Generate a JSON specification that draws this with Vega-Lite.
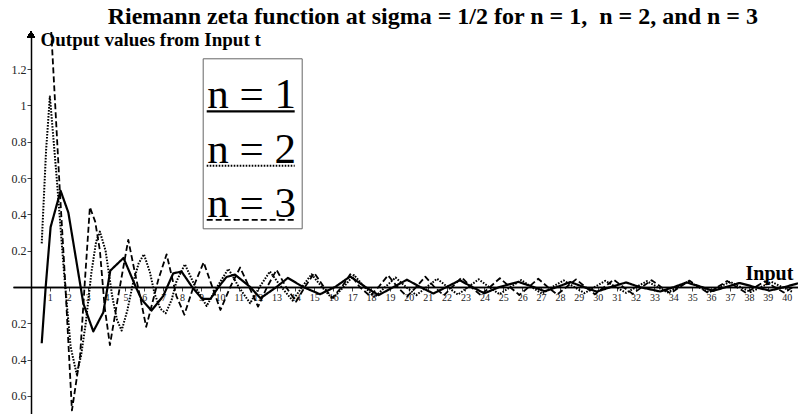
{
  "$schema": "https://vega.github.io/schema/vega-lite/v6.json",
  "width": 785,
  "height": 382,
  "autosize": {"type": "none"},
  "padding": {"left": 13, "top": 32, "right": 0, "bottom": 0},
  "background": "white",
  "view": {"stroke": null},
  "config": {"axisX": {"labelOverlap": false}},
  "title": {
    "text": "Riemann zeta function at sigma = 1/2 for n = 1,\u00a0 n = 2, and n = 3",
    "font": "Liberation Serif",
    "fontSize": 24,
    "fontWeight": "bold",
    "color": "black",
    "anchor": "end",
    "frame": "group",
    "dx": -40,
    "dy": 24,
    "offset": 7,
    "baseline": "alphabetic"
  },
  "resolve": {"axis": {"x": "independent"}},
  "data": {
    "values": [
      {"n": "n = 1", "t": 0.57, "v": -0.31},
      {"n": "n = 1", "t": 0.78, "v": 0},
      {"n": "n = 1", "t": 1.04, "v": 0.33},
      {"n": "n = 1", "t": 1.57, "v": 0.53},
      {"n": "n = 1", "t": 1.98, "v": 0.41},
      {"n": "n = 1", "t": 2.63, "v": 0},
      {"n": "n = 1", "t": 2.77, "v": -0.09},
      {"n": "n = 1", "t": 3.3, "v": -0.245},
      {"n": "n = 1", "t": 3.83, "v": -0.14},
      {"n": "n = 1", "t": 4.2, "v": 0.09},
      {"n": "n = 1", "t": 4.9, "v": 0.16},
      {"n": "n = 1", "t": 5.55, "v": 0},
      {"n": "n = 1", "t": 5.86, "v": -0.07},
      {"n": "n = 1", "t": 6.38, "v": -0.13},
      {"n": "n = 1", "t": 7.0, "v": -0.05},
      {"n": "n = 1", "t": 7.53, "v": 0.075},
      {"n": "n = 1", "t": 7.97, "v": 0.085},
      {"n": "n = 1", "t": 8.53, "v": 0},
      {"n": "n = 1", "t": 9.05, "v": -0.065},
      {"n": "n = 1", "t": 9.5, "v": -0.066},
      {"n": "n = 1", "t": 9.93, "v": 0},
      {"n": "n = 1", "t": 10.35, "v": 0.055},
      {"n": "n = 1", "t": 10.8, "v": 0.068},
      {"n": "n = 1", "t": 11.6, "v": 0},
      {"n": "n = 1", "t": 12.15, "v": -0.062},
      {"n": "n = 1", "t": 13.0, "v": 0},
      {"n": "n = 1", "t": 13.6, "v": 0.05},
      {"n": "n = 1", "t": 14.4, "v": 0},
      {"n": "n = 1", "t": 15.3, "v": -0.04},
      {"n": "n = 1", "t": 16.1, "v": 0},
      {"n": "n = 1", "t": 16.9, "v": 0.058},
      {"n": "n = 1", "t": 17.7, "v": 0},
      {"n": "n = 1", "t": 18.4, "v": -0.045},
      {"n": "n = 1", "t": 19.2, "v": 0},
      {"n": "n = 1", "t": 19.9, "v": 0.04},
      {"n": "n = 1", "t": 20.6, "v": 0},
      {"n": "n = 1", "t": 21.3, "v": -0.036},
      {"n": "n = 1", "t": 22.0, "v": 0},
      {"n": "n = 1", "t": 22.7, "v": 0.037},
      {"n": "n = 1", "t": 23.35, "v": 0},
      {"n": "n = 1", "t": 24.0, "v": -0.035},
      {"n": "n = 1", "t": 24.8, "v": 0},
      {"n": "n = 1", "t": 25.8, "v": 0.028},
      {"n": "n = 1", "t": 26.6, "v": 0},
      {"n": "n = 1", "t": 27.2, "v": -0.024},
      {"n": "n = 1", "t": 27.85, "v": 0},
      {"n": "n = 1", "t": 28.55, "v": 0.027},
      {"n": "n = 1", "t": 29.25, "v": 0},
      {"n": "n = 1", "t": 29.95, "v": -0.026},
      {"n": "n = 1", "t": 30.7, "v": 0},
      {"n": "n = 1", "t": 31.5, "v": 0.025},
      {"n": "n = 1", "t": 32.2, "v": 0},
      {"n": "n = 1", "t": 33.3, "v": -0.025},
      {"n": "n = 1", "t": 34.05, "v": 0},
      {"n": "n = 1", "t": 34.7, "v": 0.025},
      {"n": "n = 1", "t": 35.5, "v": 0},
      {"n": "n = 1", "t": 36.1, "v": -0.022},
      {"n": "n = 1", "t": 36.8, "v": 0},
      {"n": "n = 1", "t": 37.5, "v": 0.022},
      {"n": "n = 1", "t": 38.3, "v": 0},
      {"n": "n = 1", "t": 39.1, "v": -0.02},
      {"n": "n = 1", "t": 39.9, "v": 0},
      {"n": "n = 1", "t": 40.6, "v": 0.02},

      {"n": "n = 2", "t": 0.57, "v": 0.24},
      {"n": "n = 2", "t": 0.8, "v": 0.75},
      {"n": "n = 2", "t": 1.0, "v": 1.05},
      {"n": "n = 2", "t": 1.27, "v": 0.72},
      {"n": "n = 2", "t": 1.5, "v": 0.42},
      {"n": "n = 2", "t": 1.75, "v": 0.08},
      {"n": "n = 2", "t": 2.1, "v": -0.33},
      {"n": "n = 2", "t": 2.42, "v": -0.48},
      {"n": "n = 2", "t": 2.65, "v": -0.38},
      {"n": "n = 2", "t": 2.9, "v": -0.2},
      {"n": "n = 2", "t": 3.2, "v": 0.08},
      {"n": "n = 2", "t": 3.45, "v": 0.25},
      {"n": "n = 2", "t": 3.65, "v": 0.305},
      {"n": "n = 2", "t": 3.95, "v": 0.2},
      {"n": "n = 2", "t": 4.3, "v": -0.05},
      {"n": "n = 2", "t": 4.55, "v": -0.18},
      {"n": "n = 2", "t": 4.8, "v": -0.24},
      {"n": "n = 2", "t": 5.1, "v": -0.13},
      {"n": "n = 2", "t": 5.4, "v": 0.02},
      {"n": "n = 2", "t": 5.7, "v": 0.13},
      {"n": "n = 2", "t": 5.98, "v": 0.18},
      {"n": "n = 2", "t": 6.3, "v": 0.08},
      {"n": "n = 2", "t": 6.55, "v": -0.04},
      {"n": "n = 2", "t": 6.85, "v": -0.12},
      {"n": "n = 2", "t": 7.13, "v": -0.145},
      {"n": "n = 2", "t": 7.45, "v": -0.07},
      {"n": "n = 2", "t": 7.7, "v": 0.03},
      {"n": "n = 2", "t": 8.15, "v": 0.125},
      {"n": "n = 2", "t": 8.7, "v": 0},
      {"n": "n = 2", "t": 9.3, "v": -0.105},
      {"n": "n = 2", "t": 9.85, "v": 0},
      {"n": "n = 2", "t": 10.45, "v": 0.1},
      {"n": "n = 2", "t": 11.0, "v": 0},
      {"n": "n = 2", "t": 11.6, "v": -0.09},
      {"n": "n = 2", "t": 12.1, "v": 0},
      {"n": "n = 2", "t": 12.65, "v": 0.085},
      {"n": "n = 2", "t": 13.25, "v": 0},
      {"n": "n = 2", "t": 13.85, "v": -0.075},
      {"n": "n = 2", "t": 14.35, "v": 0},
      {"n": "n = 2", "t": 14.85, "v": 0.07},
      {"n": "n = 2", "t": 15.4, "v": 0},
      {"n": "n = 2", "t": 15.95, "v": -0.065},
      {"n": "n = 2", "t": 16.55, "v": 0},
      {"n": "n = 2", "t": 17.1, "v": 0.066},
      {"n": "n = 2", "t": 17.65, "v": 0},
      {"n": "n = 2", "t": 18.2, "v": -0.055},
      {"n": "n = 2", "t": 18.75, "v": 0},
      {"n": "n = 2", "t": 19.3, "v": 0.052},
      {"n": "n = 2", "t": 19.85, "v": 0},
      {"n": "n = 2", "t": 20.4, "v": -0.045},
      {"n": "n = 2", "t": 20.95, "v": 0},
      {"n": "n = 2", "t": 21.5, "v": 0.045},
      {"n": "n = 2", "t": 22.05, "v": 0},
      {"n": "n = 2", "t": 22.6, "v": -0.042},
      {"n": "n = 2", "t": 23.15, "v": 0},
      {"n": "n = 2", "t": 23.7, "v": 0.042},
      {"n": "n = 2", "t": 24.25, "v": 0},
      {"n": "n = 2", "t": 24.8, "v": -0.04},
      {"n": "n = 2", "t": 25.38, "v": 0},
      {"n": "n = 2", "t": 25.95, "v": 0.038},
      {"n": "n = 2", "t": 26.5, "v": 0},
      {"n": "n = 2", "t": 27.05, "v": -0.037},
      {"n": "n = 2", "t": 27.6, "v": 0},
      {"n": "n = 2", "t": 28.2, "v": 0.036},
      {"n": "n = 2", "t": 28.75, "v": 0},
      {"n": "n = 2", "t": 29.3, "v": -0.034},
      {"n": "n = 2", "t": 29.85, "v": 0},
      {"n": "n = 2", "t": 30.4, "v": 0.034},
      {"n": "n = 2", "t": 30.95, "v": 0},
      {"n": "n = 2", "t": 31.5, "v": -0.032},
      {"n": "n = 2", "t": 32.05, "v": 0},
      {"n": "n = 2", "t": 32.6, "v": 0.032},
      {"n": "n = 2", "t": 33.15, "v": 0},
      {"n": "n = 2", "t": 33.7, "v": -0.03},
      {"n": "n = 2", "t": 34.25, "v": 0},
      {"n": "n = 2", "t": 34.8, "v": 0.03},
      {"n": "n = 2", "t": 35.35, "v": 0},
      {"n": "n = 2", "t": 35.9, "v": -0.029},
      {"n": "n = 2", "t": 36.45, "v": 0},
      {"n": "n = 2", "t": 37.0, "v": 0.029},
      {"n": "n = 2", "t": 37.55, "v": 0},
      {"n": "n = 2", "t": 38.1, "v": -0.028},
      {"n": "n = 2", "t": 38.65, "v": 0},
      {"n": "n = 2", "t": 39.2, "v": 0.028},
      {"n": "n = 2", "t": 39.75, "v": 0},
      {"n": "n = 2", "t": 40.3, "v": -0.027},

      {"n": "n = 3", "t": 0.57, "v": 2.2},
      {"n": "n = 3", "t": 1.0, "v": 1.55},
      {"n": "n = 3", "t": 1.53, "v": 0.53},
      {"n": "n = 3", "t": 1.8, "v": 0.05},
      {"n": "n = 3", "t": 2.17, "v": -0.68},
      {"n": "n = 3", "t": 2.6, "v": -0.38},
      {"n": "n = 3", "t": 2.86, "v": 0.04},
      {"n": "n = 3", "t": 3.12, "v": 0.44},
      {"n": "n = 3", "t": 3.4, "v": 0.36},
      {"n": "n = 3", "t": 3.65, "v": 0.2},
      {"n": "n = 3", "t": 3.9, "v": -0.11},
      {"n": "n = 3", "t": 4.18, "v": -0.32},
      {"n": "n = 3", "t": 4.62, "v": -0.05},
      {"n": "n = 3", "t": 5.15, "v": 0.26},
      {"n": "n = 3", "t": 5.5, "v": 0.08},
      {"n": "n = 3", "t": 5.77, "v": -0.05},
      {"n": "n = 3", "t": 6.1, "v": -0.22},
      {"n": "n = 3", "t": 6.74, "v": 0.04},
      {"n": "n = 3", "t": 7.18, "v": 0.18},
      {"n": "n = 3", "t": 7.7, "v": -0.05},
      {"n": "n = 3", "t": 8.12, "v": -0.153},
      {"n": "n = 3", "t": 8.6, "v": 0},
      {"n": "n = 3", "t": 9.14, "v": 0.136},
      {"n": "n = 3", "t": 9.6, "v": 0},
      {"n": "n = 3", "t": 10.03, "v": -0.127},
      {"n": "n = 3", "t": 10.55, "v": 0},
      {"n": "n = 3", "t": 11.07, "v": 0.107},
      {"n": "n = 3", "t": 11.55, "v": 0},
      {"n": "n = 3", "t": 12.02, "v": -0.108},
      {"n": "n = 3", "t": 12.5, "v": 0},
      {"n": "n = 3", "t": 13.0, "v": 0.094},
      {"n": "n = 3", "t": 13.5, "v": 0},
      {"n": "n = 3", "t": 14.03, "v": -0.081},
      {"n": "n = 3", "t": 14.5, "v": 0},
      {"n": "n = 3", "t": 15.0, "v": 0.077},
      {"n": "n = 3", "t": 15.5, "v": 0},
      {"n": "n = 3", "t": 15.95, "v": -0.06},
      {"n": "n = 3", "t": 16.45, "v": 0},
      {"n": "n = 3", "t": 16.9, "v": 0.07},
      {"n": "n = 3", "t": 17.4, "v": 0},
      {"n": "n = 3", "t": 17.95, "v": -0.05},
      {"n": "n = 3", "t": 18.4, "v": 0},
      {"n": "n = 3", "t": 18.9, "v": 0.064},
      {"n": "n = 3", "t": 19.4, "v": 0},
      {"n": "n = 3", "t": 19.9, "v": -0.053},
      {"n": "n = 3", "t": 20.4, "v": 0},
      {"n": "n = 3", "t": 20.87, "v": 0.057},
      {"n": "n = 3", "t": 21.35, "v": 0},
      {"n": "n = 3", "t": 21.85, "v": -0.046},
      {"n": "n = 3", "t": 22.3, "v": 0},
      {"n": "n = 3", "t": 22.8, "v": 0.053},
      {"n": "n = 3", "t": 23.3, "v": 0},
      {"n": "n = 3", "t": 23.8, "v": -0.045},
      {"n": "n = 3", "t": 24.3, "v": 0},
      {"n": "n = 3", "t": 24.82, "v": 0.048},
      {"n": "n = 3", "t": 25.35, "v": 0},
      {"n": "n = 3", "t": 25.85, "v": -0.044},
      {"n": "n = 3", "t": 26.35, "v": 0},
      {"n": "n = 3", "t": 26.85, "v": 0.045},
      {"n": "n = 3", "t": 27.35, "v": 0},
      {"n": "n = 3", "t": 27.85, "v": -0.042},
      {"n": "n = 3", "t": 28.35, "v": 0},
      {"n": "n = 3", "t": 28.85, "v": 0.042},
      {"n": "n = 3", "t": 29.35, "v": 0},
      {"n": "n = 3", "t": 29.85, "v": -0.04},
      {"n": "n = 3", "t": 30.35, "v": 0},
      {"n": "n = 3", "t": 30.85, "v": 0.04},
      {"n": "n = 3", "t": 31.35, "v": 0},
      {"n": "n = 3", "t": 31.85, "v": -0.038},
      {"n": "n = 3", "t": 32.35, "v": 0},
      {"n": "n = 3", "t": 32.85, "v": 0.037},
      {"n": "n = 3", "t": 33.35, "v": 0},
      {"n": "n = 3", "t": 33.85, "v": -0.035},
      {"n": "n = 3", "t": 34.35, "v": 0},
      {"n": "n = 3", "t": 34.85, "v": 0.035},
      {"n": "n = 3", "t": 35.35, "v": 0},
      {"n": "n = 3", "t": 35.85, "v": -0.034},
      {"n": "n = 3", "t": 36.35, "v": 0},
      {"n": "n = 3", "t": 36.85, "v": 0.033},
      {"n": "n = 3", "t": 37.35, "v": 0},
      {"n": "n = 3", "t": 37.85, "v": -0.032},
      {"n": "n = 3", "t": 38.35, "v": 0},
      {"n": "n = 3", "t": 38.85, "v": 0.031},
      {"n": "n = 3", "t": 39.35, "v": 0},
      {"n": "n = 3", "t": 39.85, "v": -0.03},
      {"n": "n = 3", "t": 40.35, "v": 0}
    ]
  },
  "layer": [
    {
      "mark": {"type": "line", "color": "black", "clip": true, "strokeJoin": "round"},
      "encoding": {
        "x": {
          "field": "t",
          "type": "quantitative",
          "scale": {"domain": [-0.95, 40.6], "nice": false, "zero": false},
          "axis": {
            "orient": "bottom",
            "offset": -127,
            "values": [1,3,5,7,9,11,13,15,17,19,21,23,25,27,29,31,33,35,37,39],
            "grid": false,
            "domainColor": "black",
            "domainWidth": 1.5,
            "tickColor": "#444",
            "tickSize": 4,
            "labelFont": "Liberation Serif",
            "labelFontSize": 10,
            "labelColor": "#222",
            "labelPadding": 1,
            "labelOverlap": false,
            "labelFlush": false,
            "title": "Input t",
            "titleFont": "Liberation Serif",
            "titleFontWeight": "bold",
            "titleFontSize": 20,
            "titleColor": "black",
            "titleAlign": "left",
            "titleBaseline": "alphabetic",
            "titleX": 732,
            "titleY": -7.7
          }
        },
        "y": {
          "field": "v",
          "type": "quantitative",
          "scale": {"domain": [-0.7, 1.405], "nice": false, "zero": false},
          "axis": {
            "orient": "left",
            "offset": -18,
            "values": [-0.6, -0.4, -0.2, 0.2, 0.4, 0.6, 0.8, 1, 1.2],
            "labelExpr": "format(abs(datum.value), '~g')",
            "grid": false,
            "domainColor": "black",
            "domainWidth": 1.5,
            "tickColor": "#444",
            "tickSize": 4,
            "labelFont": "Liberation Serif",
            "labelFontSize": 12,
            "labelColor": "#222",
            "labelPadding": 1,
            "title": "Output values from Input t",
            "titleFont": "Liberation Serif",
            "titleFontWeight": "bold",
            "titleFontSize": 19,
            "titleColor": "black",
            "titleAngle": 0,
            "titleAlign": "left",
            "titleBaseline": "alphabetic",
            "titleX": 9,
            "titleY": 13.7
          }
        },
        "strokeDash": {
          "field": "n",
          "type": "nominal",
          "scale": {"domain": ["n = 1", "n = 2", "n = 3"], "range": [[1, 0], [1.6, 1.4], [6, 3]]},
          "legend": {
            "title": " ",
            "titleFontSize": 5,
            "titlePadding": 0,
            "orient": "none",
            "legendX": 189.7,
            "legendY": 26.3,
            "direction": "vertical",
            "symbolType": "stroke",
            "symbolSize": 7744,
            "symbolStrokeColor": "black",
            "labelFont": "Liberation Serif",
            "labelFontSize": 43,
            "labelColor": "black",
            "labelBaseline": "alphabetic",
            "labelOffset": -89,
            "labelLimit": 300,
            "rowPadding": 3,
            "padding": 2.5,
            "strokeColor": "#666",
            "fillColor": "white",
            "encode": {"labels": {"update": {"dy": {"value": -3}}}}
          }
        },
        "strokeWidth": {
          "field": "n",
          "type": "nominal",
          "scale": {"domain": ["n = 1", "n = 2", "n = 3"], "range": [2.2, 1.8, 1.8]}
        },
        "order": {"field": "t", "type": "quantitative"}
      }
    },
    {
      "mark": {"type": "point", "shape": "triangle-up", "filled": true, "color": "black", "size": 60, "opacity": 1},
      "encoding": {
        "x": {
          "datum": 0,
          "type": "quantitative",
          "axis": {
            "orient": "bottom",
            "offset": -127,
            "values": [2,4,6,8,10,12,14,16,18,20,22,24,26,28,30,32,34,36,38,40],
            "grid": false,
            "domainColor": "black",
            "domainWidth": 1.5,
            "tickColor": "#444",
            "tickSize": 4,
            "labelFont": "Liberation Serif",
            "labelFontSize": 10,
            "labelColor": "#222",
            "labelPadding": 1,
            "labelOverlap": false,
            "labelFlush": false,
            "title": null
          }
        },
        "y": {"datum": 1.39, "type": "quantitative"}
      }
    }
  ]
}
